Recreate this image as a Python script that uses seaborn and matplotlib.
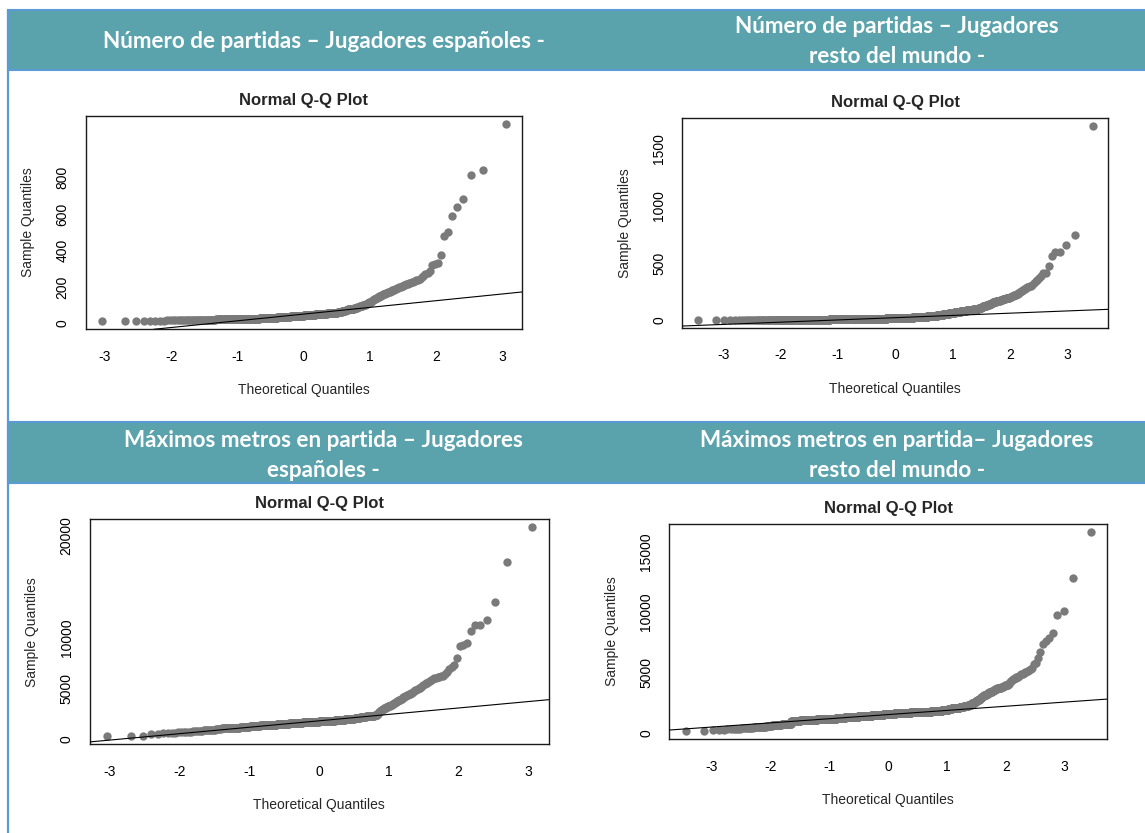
import numpy as np
import pandas as pd
import matplotlib
matplotlib.use("Agg")
import matplotlib.pyplot as plt
from matplotlib.patches import Rectangle
import seaborn as sns
from statistics import NormalDist

# ---------------------------------------------------------------------------
# Número de partidas - jugadores españoles (n = 438)
# bulk as value / frequency table, upper tail as individual values
partidas_esp_valores = [10, 11, 12, 13, 14, 15, 16,
                        17, 18, 19, 20,
                        21, 22, 23, 24, 25,
                        26, 27, 28, 29, 30, 31,
                        32, 33, 34, 35, 36, 37, 38, 39, 40, 41, 42,
                        43, 44, 45, 46, 47, 48, 49, 50, 51, 52, 53, 54, 55, 56, 57, 58,
                        59, 60, 61, 62, 64, 65, 66, 67, 68, 70, 71, 72,
                        76, 77, 78, 80,
                        82, 84, 86, 88, 90, 92, 94, 96, 98,
                        100, 102, 104, 106, 108, 110, 112, 114, 116]
partidas_esp_frecuencias = [1, 1, 2, 2, 2, 2, 2,
                            6, 7, 7, 8,
                            13, 14, 14, 14, 15,
                            8, 7, 7, 7, 6, 6,
                            7, 7, 7, 6, 6, 6, 6, 6, 6, 6, 5,
                            7, 6, 6, 6, 5, 5, 5, 5, 5, 5, 5, 5, 5, 5, 5, 5,
                            2, 2, 2, 2, 2, 2, 2, 2, 2, 2, 2, 2,
                            3, 3, 3, 3,
                            2, 2, 2, 2, 2, 2, 2, 2, 3,
                            1, 1, 1, 1, 1, 2, 1, 1, 2]
partidas_esp_cola = [119, 122, 125, 128, 131, 133, 135, 137, 139, 140,
                     143, 145, 148, 150, 152, 154, 156, 158, 160, 162, 164, 166, 168,
                     170, 172, 174, 176, 178, 181, 183, 185, 188, 190,
                     193, 195, 198, 200, 203, 205, 208, 210, 213,
                     216, 219, 221, 224, 226, 231, 236, 240, 244, 252, 258, 268,
                     275, 286, 320, 325, 332, 373, 477, 504, 590, 641, 681,
                     812, 840, 1097]

# Número de partidas - jugadores resto del mundo (n = 1750)
partidas_mundo_valores = [1, 3, 5, 7,
                          9, 11, 13, 14,
                          16, 18, 20, 22, 24, 26, 28, 30, 32, 34,
                          37, 41, 45, 50, 55, 60, 65,
                          69, 73, 77, 81, 85, 89, 94,
                          99, 104, 109, 114, 119, 124, 129,
                          134, 139, 144, 149, 154, 159, 163, 167,
                          170, 174, 178, 182, 186, 190, 193, 196]
partidas_mundo_frecuencias = [110, 110, 110, 108,
                              110, 110, 110, 107,
                              60, 55, 50, 47, 45, 40, 38, 36, 35, 32,
                              30, 28, 26, 25, 24, 22, 20,
                              20, 19, 18, 18, 18, 18, 17,
                              6, 6, 6, 6, 6, 6, 5,
                              4, 4, 4, 4, 4, 4, 4, 3,
                              3, 3, 3, 3, 3, 3, 2, 2]
partidas_mundo_cola = [199, 202, 205, 208, 211, 214, 217, 219, 221, 223, 225,
                       230, 235, 240, 246, 252, 258, 264, 269,
                       276, 280, 285, 290, 296, 300, 310, 320, 340, 354, 370,
                       383, 408, 412, 476, 558, 593, 598, 660, 740, 1700]

# Máximos metros en partida - jugadores españoles (n = 438)
metros_esp_valores = [325, 335, 340, 500, 560, 600, 650, 700, 720,
                      760, 800, 850, 900, 950, 1000, 1030,
                      1070, 1110, 1150, 1200, 1250, 1300,
                      1330, 1355, 1378,
                      1410, 1450, 1490, 1530, 1570, 1600,
                      1630, 1660, 1690, 1720,
                      1745, 1770,
                      1820, 1870, 1930, 1980, 2030,
                      2080, 2130, 2180, 2220,
                      2240, 2280, 2320, 2380]
metros_esp_frecuencias = [1, 1, 1, 1, 1, 2, 2, 2, 1,
                          3, 3, 3, 4, 5, 3, 2,
                          7, 7, 7, 7, 7, 6,
                          11, 11, 12,
                          9, 9, 9, 9, 9, 9,
                          14, 14, 14, 13,
                          14, 13,
                          12, 12, 12, 11, 11,
                          6, 6, 6, 6,
                          6, 6, 5, 5]
metros_esp_cola = [2450, 2550, 2650, 2700, 2750, 2800, 2850,
                   2880, 2910, 2950, 2990, 3030, 3060, 3100, 3130, 3160, 3190,
                   3220, 3250, 3280, 3310, 3330, 3350,
                   3400, 3450, 3500, 3550, 3600, 3650, 3700, 3740, 3780, 3810, 3840,
                   3900, 3950, 4000, 4050, 4100, 4150, 4200, 4250, 4300, 4350,
                   4400, 4450, 4480, 4500,
                   4580, 4650, 4720, 4800, 4870, 4930, 4990,
                   5050, 5150, 5250, 5330, 5400, 5480, 5560, 5640,
                   5720, 5800, 5900, 5970,
                   6020, 6080, 6130, 6180, 6230,
                   6400, 6650, 6890,
                   7080, 7280, 7940, 9150, 9250, 9480, 10630, 11220, 11250,
                   11680, 13450, 17350, 20800]

# Máximos metros en partida - jugadores resto del mundo (n = 1750)
metros_mundo_valores = [190, 200, 250, 260, 280,
                        320, 360, 400, 450, 500,
                        550, 600, 650, 700, 750, 780, 800,
                        980, 1010, 1030,
                        1050, 1080, 1100,
                        1130, 1160, 1190, 1220, 1250,
                        1280, 1310,
                        1340, 1370, 1400, 1430, 1460, 1490, 1520, 1550, 1575, 1600,
                        1620, 1640, 1660, 1680, 1700, 1720, 1740, 1760, 1780,
                        1800, 1820, 1845, 1870,
                        1910, 1950, 2000, 2050, 2100, 2180, 2260,
                        2300, 2350, 2420, 2480,
                        2530, 2600, 2680, 2750,
                        2780, 2830, 2890,
                        2970, 3050, 3130, 3200, 3270, 3330, 3390, 3440,
                        3500, 3570, 3640, 3710, 3780, 3850,
                        3900, 3950, 4000]
metros_mundo_frecuencias = [1, 1, 1, 1, 1,
                            3, 3, 4, 4, 5,
                            9, 9, 9, 10, 10, 10, 6,
                            5, 4, 4,
                            18, 18, 17,
                            44, 44, 44, 43, 43,
                            34, 33,
                            49, 49, 49, 49, 47, 47, 46, 46, 45, 45,
                            45, 45, 45, 45, 45, 45, 45, 44, 44,
                            30, 30, 30, 30,
                            24, 24, 24, 24, 24, 23, 22,
                            6, 6, 6, 5,
                            5, 5, 5, 4,
                            4, 4, 3,
                            4, 4, 4, 4, 4, 4, 4, 3,
                            4, 4, 4, 4, 4, 4,
                            3, 3, 2]
metros_mundo_cola = [4100, 4180, 4260,
                     4300, 4350, 4400, 4450, 4500, 4550, 4600, 4640, 4660, 4680,
                     4750, 4800, 4870, 4930, 5000, 5050, 5100, 5150, 5250,
                     5300, 5400, 5700, 5800, 6200, 6690, 7360, 7630, 7900, 8260,
                     9780, 10130, 12810, 16610]

titulos = ["Número de partidas – Jugadores españoles -",
           ["Número de partidas – Jugadores", "resto del mundo -"],
           ["Máximos metros en partida – Jugadores", "españoles -"],
           ["Máximos metros en partida– Jugadores", "resto del mundo -"]]

x_ticks = [-3, -2, -1, 0, 1, 2, 3]
y_ticks = [[0, 200, 400, 600, 800, 1000],
           [0, 500, 1000, 1500],
           [0, 5000, 10000, 15000, 20000],
           [0, 5000, 10000, 15000]]
y_tick_labels = [["0", "200", "400", "600", "800", ""],
                 ["0", "500", "1000", "1500"],
                 ["0", "5000", "10000", "", "20000"],
                 ["0", "5000", "10000", "15000"]]

# ---------------------------------------------------------------------------
W, H = 1145, 833
TEAL = "#5aa3ad"
BORDE = "#5b9bd5"

sns.set_style("white")
plt.rcParams["font.family"] = ["Liberation Sans", "DejaVu Sans"]

fig = plt.figure(figsize=(W / 100, H / 100), dpi=100)
fig.patch.set_facecolor("white")


def fx(x):
    return x / W


def fy(y):
    return 1 - y / H


def muestra(valores, frecuencias, cola):
    vals = np.concatenate([np.repeat(valores, frecuencias), cola]).astype(float)
    return np.sort(vals)


def ppoints(n):
    a = 3 / 8 if n <= 10 else 0.5
    return (np.arange(1, n + 1) - a) / (n + 1 - 2 * a)


nd = NormalDist()


def panel_qq(caja, datos, ticks_y, etiquetas_y):
    x0, y0, x1, y1 = caja
    ax = fig.add_axes([fx(x0), fy(y1), (x1 - x0) / W, (y1 - y0) / H])
    n = len(datos)
    teor = np.array([nd.inv_cdf(p) for p in ppoints(n)])
    df = pd.DataFrame({"teorico": teor, "muestral": datos})
    sns.scatterplot(data=df, x="teorico", y="muestral", ax=ax, color="#7a7a7a",
                    s=36, linewidth=0, legend=False, zorder=2)
    # reference line through the quartiles
    qy = np.quantile(datos, [0.25, 0.75])
    qx = np.array([nd.inv_cdf(0.25), nd.inv_cdf(0.75)])
    pend = (qy[1] - qy[0]) / (qx[1] - qx[0])
    ordo = qy[0] - pend * qx[0]
    ax.axline((0, ordo), slope=pend, color="black", lw=0.8, zorder=3)

    rx = teor.max() - teor.min()
    ry = datos.max() - datos.min()
    ax.set_xlim(teor.min() - 0.04 * rx, teor.max() + 0.04 * rx)
    ax.set_ylim(datos.min() - 0.04 * ry, datos.max() + 0.04 * ry)

    ax.set_xticks(x_ticks)
    ax.set_xticklabels([str(t) for t in x_ticks])
    ax.set_yticks(ticks_y)
    ax.set_yticklabels(etiquetas_y)
    ax.tick_params(axis="both", direction="out", length=5.5, width=0.8,
                   color="black", labelsize=10, labelcolor="black")
    ax.tick_params(axis="x", pad=9.4)
    ax.tick_params(axis="y", pad=6.0)
    for lbl in ax.get_yticklabels():
        lbl.set_rotation(90)
        lbl.set_va("center")
        lbl.set_ha("right")
    for s in ax.spines.values():
        s.set_visible(True)
        s.set_color("#1a1a1a")
        s.set_linewidth(1.0)

    ax.set_title("Normal Q-Q Plot", fontsize=12, fontweight="bold", pad=7.7)
    ax.set_xlabel("Theoretical Quantiles", fontsize=10)
    ax.set_ylabel("Sample Quantiles", fontsize=10)
    ax.xaxis.set_label_coords(0.5, -54 / (y1 - y0))
    ax.yaxis.set_label_coords(-50.5 / (x1 - x0), 0.5)
    ax.grid(False)
    ax.set_facecolor("white")
    return ax


# header bands and left rule
for ytop, ybot in [(10, 70), (422, 483)]:
    fig.add_artist(Rectangle((fx(8), fy(ybot)), (W - 8 + 5) / W, (ybot - ytop) / H,
                             transform=fig.transFigure, facecolor=TEAL,
                             edgecolor=BORDE, linewidth=1.5, zorder=1))
fig.add_artist(plt.Line2D([fx(8), fx(8)], [fy(10), fy(H + 2)], transform=fig.transFigure,
                          color=BORDE, linewidth=1.6, zorder=2))

hdr = dict(ha="center", va="baseline", color="white", fontsize=16.2,
           fontweight="bold", family=["Lato", "DejaVu Sans"])
fig.text(fx(323.7), fy(48.3), titulos[0], **hdr)
fig.text(fx(897), fy(33.3), titulos[1][0], **hdr)
fig.text(fx(897), fy(63.3), titulos[1][1], **hdr)
fig.text(fx(323.5), fy(447.3), titulos[2][0], **hdr)
fig.text(fx(323.5), fy(476.7), titulos[2][1], **hdr)
fig.text(fx(897), fy(447.3), titulos[3][0], **hdr)
fig.text(fx(897), fy(476.7), titulos[3][1], **hdr)

cajas = [(85.5, 115.7, 522, 329.3),
         (682.2, 118, 1108.3, 327.7),
         (89.5, 519, 548.6, 744.3),
         (669.4, 524, 1106.9, 739)]
series = [muestra(partidas_esp_valores, partidas_esp_frecuencias, partidas_esp_cola),
          muestra(partidas_mundo_valores, partidas_mundo_frecuencias, partidas_mundo_cola),
          muestra(metros_esp_valores, metros_esp_frecuencias, metros_esp_cola),
          muestra(metros_mundo_valores, metros_mundo_frecuencias, metros_mundo_cola)]

for caja, datos, tk, tl in zip(cajas, series, y_ticks, y_tick_labels):
    panel_qq(caja, datos, tk, tl)

fig.savefig("out.png", dpi=100, facecolor="white")
